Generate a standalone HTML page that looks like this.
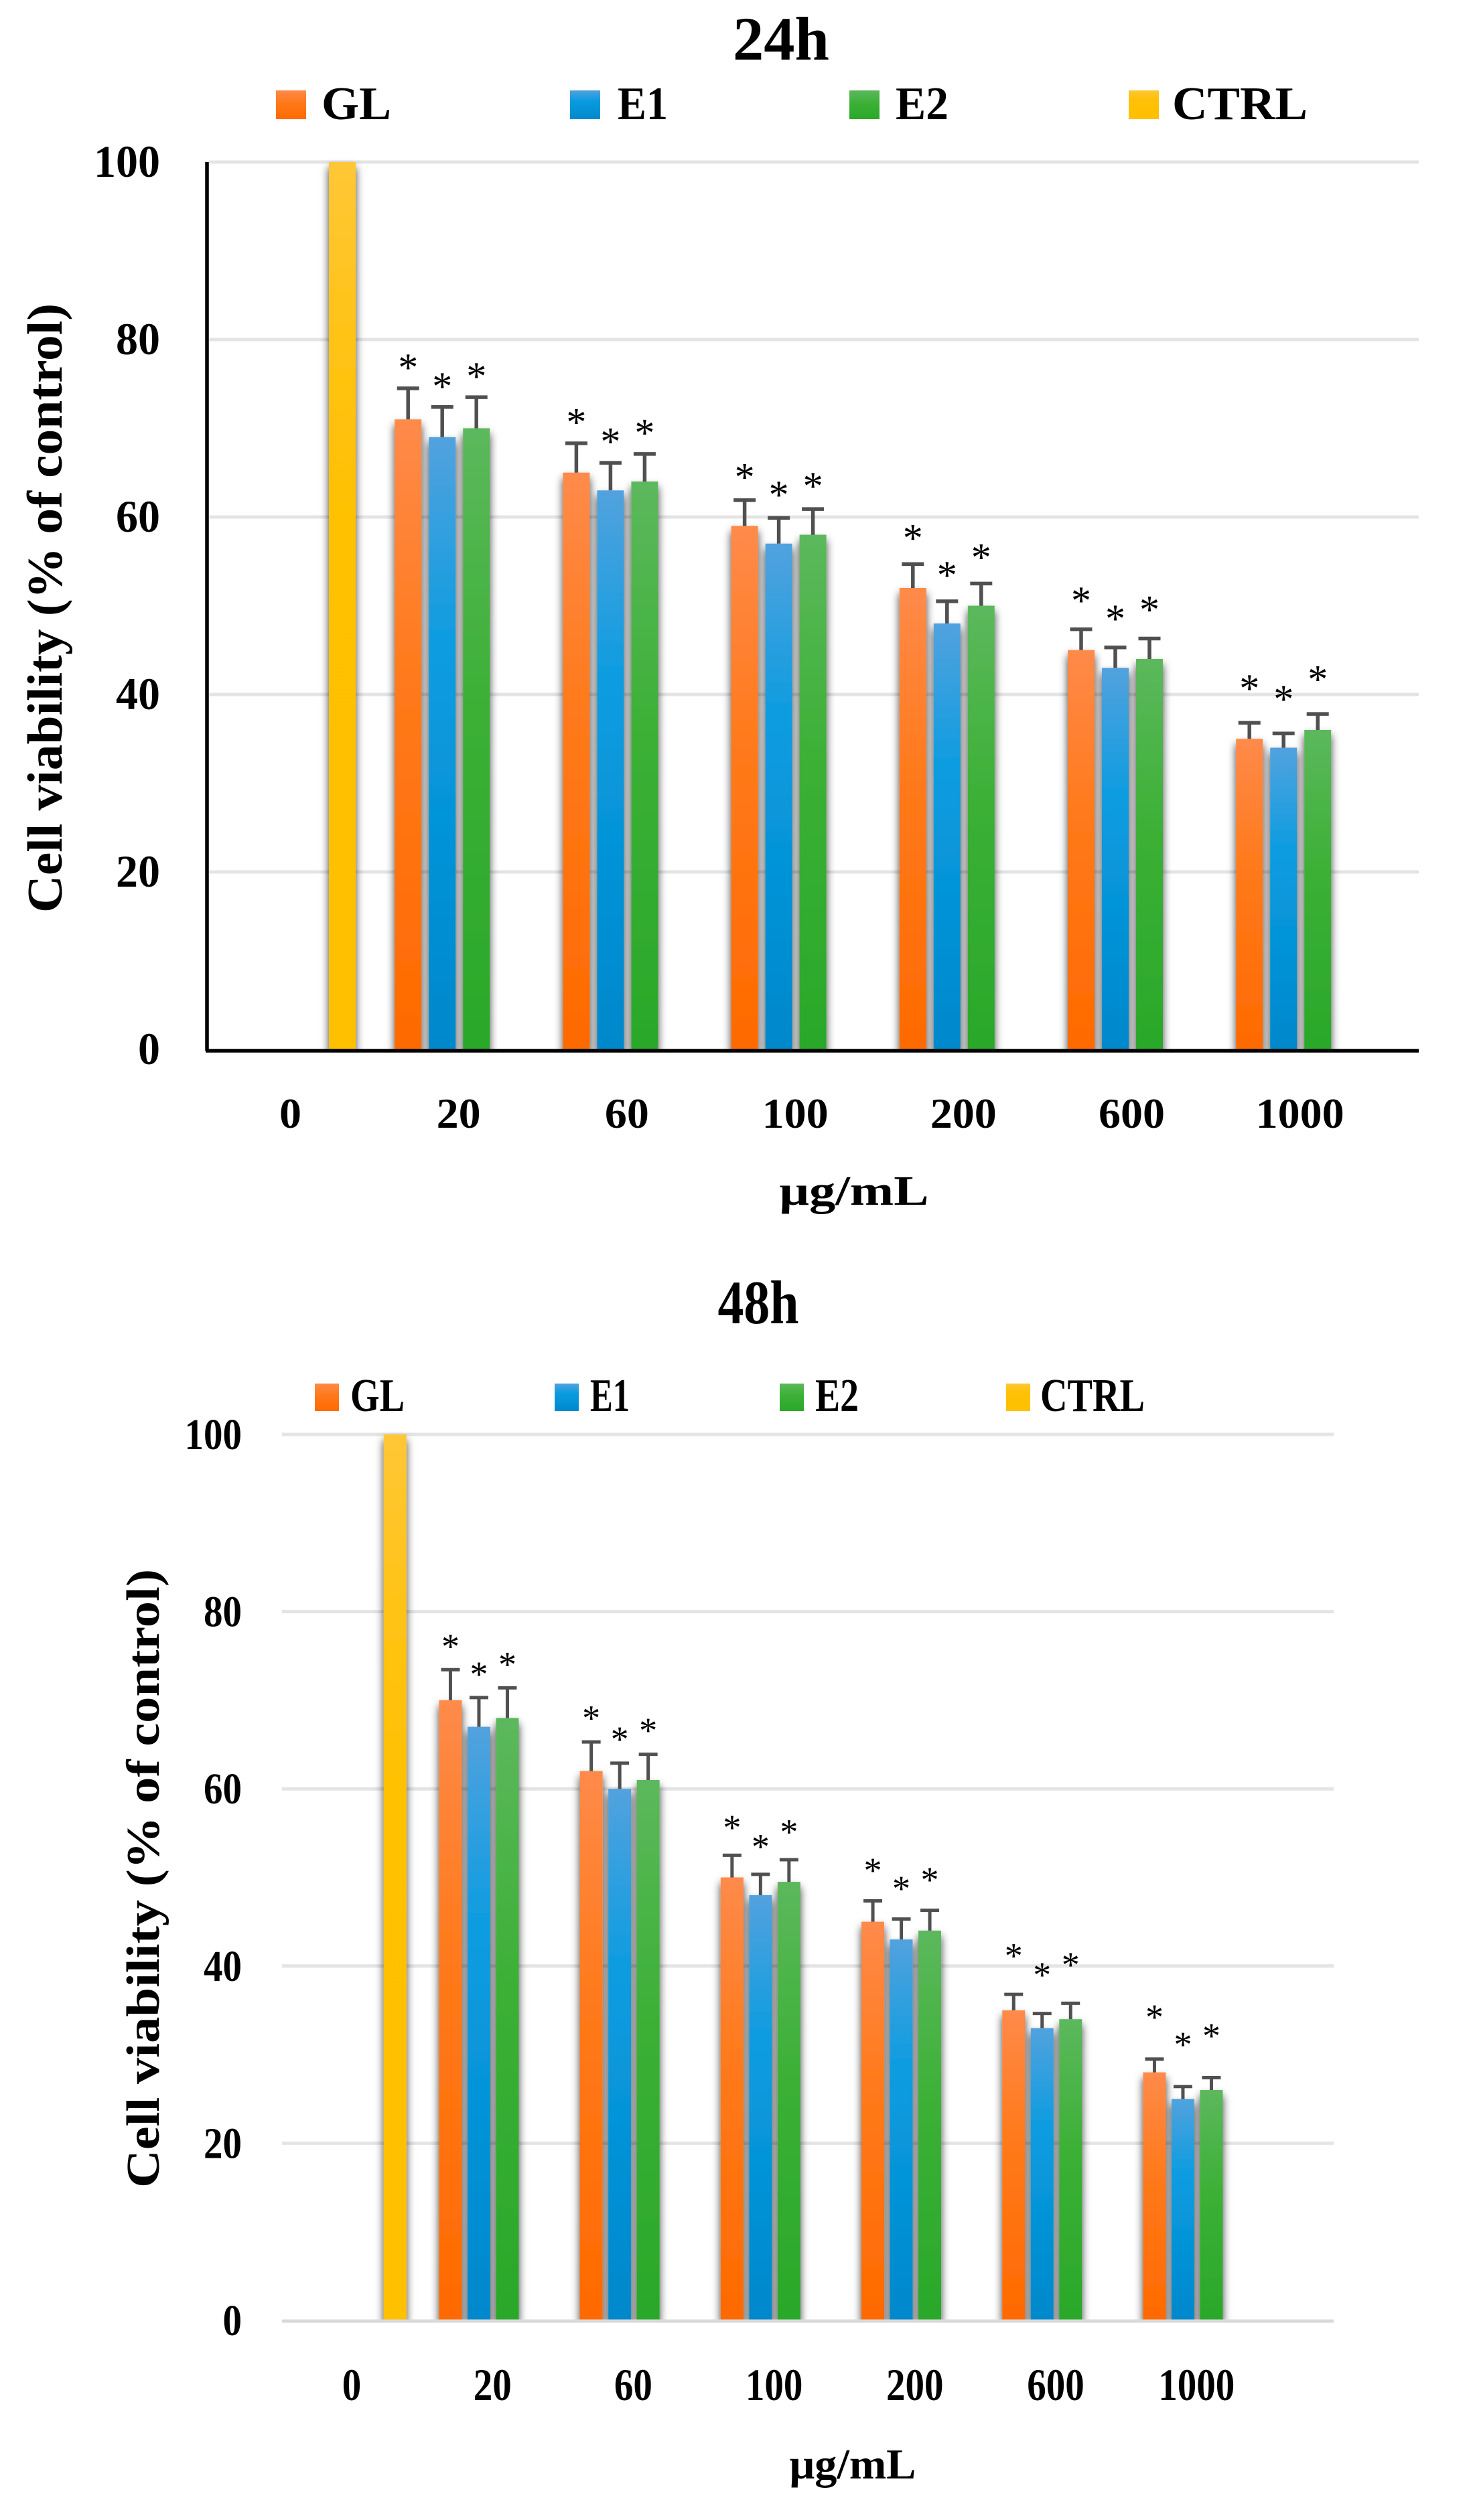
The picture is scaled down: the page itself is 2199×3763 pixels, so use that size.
<!DOCTYPE html>
<html lang="en">
<head>
<meta charset="utf-8">
<title>Cell viability at 24h and 48h</title>
<style>
html,body{margin:0;padding:0;background:#fff;}
svg{display:block;}
text{font-family:"Liberation Serif","DejaVu Serif",serif;fill:#000;}
</style>
</head>
<body>
<svg id="figure" xmlns="http://www.w3.org/2000/svg" width="2199" height="3763" viewBox="0 0 2199 3763">
  <defs id="figure-defs">
    <linearGradient id="grad-gl" x1="0" y1="0" x2="0" y2="1"><stop offset="0" stop-color="#ff8a4a"/><stop offset="0.4" stop-color="#ff7a1c"/><stop offset="1" stop-color="#ff6a00"/></linearGradient>
    <linearGradient id="grad-e1" x1="0" y1="0" x2="0" y2="1"><stop offset="0" stop-color="#52a2de"/><stop offset="0.35" stop-color="#0a9ce0"/><stop offset="1" stop-color="#0088cc"/></linearGradient>
    <linearGradient id="grad-e2" x1="0" y1="0" x2="0" y2="1"><stop offset="0" stop-color="#5cb85c"/><stop offset="0.45" stop-color="#3bb035"/><stop offset="1" stop-color="#2aa82a"/></linearGradient>
    <linearGradient id="grad-ctrl" x1="0" y1="0" x2="0" y2="1"><stop offset="0" stop-color="#ffc736"/><stop offset="0.3" stop-color="#ffc107"/><stop offset="1" stop-color="#ffc000"/></linearGradient>
    <filter id="bar-shadow" filterUnits="userSpaceOnUse" x="0" y="0" width="2199" height="3763">
      <feDropShadow dx="0" dy="8" stdDeviation="6.5" flood-color="#000" flood-opacity="0.75"/>
    </filter>
  </defs>
</svg>
<script>
// Shared categories and axis ticks
const categories = ['0', '20', '60', '100', '200', '600', '1000'];
const yTicks = [0, 20, 40, 60, 80, 100];
const yTickLabels = ['0', '20', '40', '60', '80', '100'];
const seriesNames = ['GL', 'E1', 'E2', 'CTRL'];

// 24h values (% of control)
const gl24 = [null, 71, 65, 59, 52, 45, 35];
const e124 = [null, 69, 63, 57, 48, 43, 34];
const e224 = [null, 70, 64, 58, 50, 44, 36];
const ctrl24 = [100, null, null, null, null, null, null];
const glErr24 = [null, 3.5, 3.3, 2.9, 2.7, 2.35, 1.8];
const e1Err24 = [null, 3.4, 3.1, 2.9, 2.5, 2.3, 1.6];
const e2Err24 = [null, 3.5, 3.1, 2.9, 2.5, 2.3, 1.8];
const starGap24 = [null, 2.95, 3.0, 3.2, 3.55, 3.85, 4.5];

// 48h values (% of control)
const gl48 = [null, 70, 62, 50, 45, 35, 28];
const e148 = [null, 67, 60, 48, 43, 33, 25];
const e248 = [null, 68, 61, 49.5, 44, 34, 26];
const ctrl48 = [100, null, null, null, null, null, null];
const glErr48 = [null, 3.45, 3.3, 2.5, 2.35, 1.8, 1.5];
const e1Err48 = [null, 3.3, 2.9, 2.35, 2.3, 1.65, 1.4];
const e2Err48 = [null, 3.4, 2.9, 2.5, 2.3, 1.8, 1.4];
const starGap48 = [null, 3.2, 3.25, 3.7, 4.0, 4.9, 5.3];

const svg = document.getElementById('figure');
const defs = document.getElementById('figure-defs');
const NS = 'http://www.w3.org/2000/svg';
const gradients = ['url(#grad-gl)', 'url(#grad-e1)', 'url(#grad-e2)', 'url(#grad-ctrl)'];

function make(tag, props, parent) {
  const el = document.createElementNS(NS, tag);
  for (const k in props) el.setAttribute(k, props[k]);
  parent.appendChild(el);
  return el;
}

function drawChart(c, series, errors, starGaps) {
  const root = make('g', {}, svg);
  
  

  const yScale = v => c.y0 - (v / 100) * c.yLen;
  const xBand = i => c.x0 + i * c.band;
  const xBar = (i, s) => xBand(i) + (s - 1.5) * c.step;

  const title = make('text', {x: c.titleX, y: c.titleY, 'text-anchor': 'middle', 'font-size': c.titleFont, 'font-weight': 'bold', textLength: c.titleW, lengthAdjust: 'spacingAndGlyphs'}, root);
  title.textContent = c.key;
  
  

  seriesNames.forEach((name, s) => {
    const sw = make('rect', {x: c.legendSwatchX[s], y: c.legendY, width: c.swatchW, height: c.swatchH, fill: gradients[s]}, root);
    
    
    const t = make('text', {x: c.legendTextX[s], y: c.legendY + c.swatchH, 'font-size': c.legendFont, 'font-weight': 'bold', textLength: c.legendTextW[s], lengthAdjust: 'spacingAndGlyphs'}, root);
    t.textContent = name;
    
    
  });

  yTicks.forEach((v, i) => {
    if (v > 0) {
      const g = make('line', {x1: c.gridL, x2: c.gridR, y1: yScale(v), y2: yScale(v), stroke: '#e4e4e4', 'stroke-width': 5}, root);
      
      
    }
    const label = yTickLabels[i];
    const t = make('text', {x: c.yTickR - label.length * c.digitW, y: yScale(v) + 22, 'font-size': c.yTickFont, 'font-weight': 'bold', textLength: label.length * c.digitW, lengthAdjust: 'spacingAndGlyphs'}, root);
    t.textContent = label;
    
    
  });

  const clip = make('clipPath', {id: 'plot-clip-' + c.key}, defs);
  make('rect', {x: 0, y: 0, width: 2199, height: c.y0}, clip);
  const clipGroup = make('g', {'clip-path': 'url(#plot-clip-' + c.key + ')'}, root);
  
  
  const barGroup = make('g', {filter: 'url(#bar-shadow)'}, clipGroup);
  
  
  series.forEach((vals, s) => {
    vals.forEach((v, i) => {
      if (v === null) return;
      const bar = make('rect', {x: xBar(i, s) - c.barW / 2, y: yScale(v), width: c.barW, height: c.y0 - yScale(v), fill: gradients[s]}, barGroup);
      
      
    });
  });

  if (c.blackAxes) {
    const yAxis = make('line', {x1: c.gridL - 3, x2: c.gridL - 3, y1: yScale(100), y2: c.y0 + 2, stroke: '#000', 'stroke-width': 5.5}, root);
    
    
    const xAxis = make('line', {x1: c.gridL - 5, x2: c.gridR, y1: c.y0 + 2, y2: c.y0 + 2, stroke: '#000', 'stroke-width': 5.5}, root);
    
    
  } else {
    const base = make('line', {x1: c.gridL, x2: c.gridR, y1: c.y0 + 1, y2: c.y0 + 1, stroke: '#d9d9d9', 'stroke-width': 5}, root);
    
    
  }

  errors.forEach((errs, s) => {
    errs.forEach((e, i) => {
      if (e === null) return;
      const v = series[s][i];
      const x = xBar(i, s);
      const top = yScale(v + e);
      const stem = make('line', {x1: x, x2: x, y1: yScale(v), y2: top, stroke: '#505050', 'stroke-width': c.errW}, root);
      
      
      const cap = make('line', {x1: x - c.capW / 2, x2: x + c.capW / 2, y1: top, y2: top, stroke: '#505050', 'stroke-width': c.errW}, root);
      
      
      const star = make('text', {x: x, y: yScale(v + e + starGaps[i]) + c.starFont * 0.47, 'text-anchor': 'middle', 'font-size': c.starFont}, root);
      star.textContent = '*';
      
      
    });
  });

  categories.forEach((cat, i) => {
    const t = make('text', {x: xBand(i) + c.xLabelShift, y: c.xTickY, 'text-anchor': 'middle', 'font-size': c.xTickFont, 'font-weight': 'bold', textLength: cat.length * c.digitW, lengthAdjust: 'spacingAndGlyphs'}, root);
    t.textContent = cat;
    
    
  });

  const xTitle = make('text', {x: c.xTitleX, y: c.xTitleY, 'text-anchor': 'middle', 'font-size': c.xTitleFont, 'font-weight': 'bold', textLength: c.xTitleW, lengthAdjust: 'spacingAndGlyphs'}, root);
  xTitle.textContent = 'μg/mL';
  
  

  const yTitle = make('text', {transform: 'translate(' + c.yTitleX + ' ' + c.yTitleCY + ') rotate(-90)', 'text-anchor': 'middle', 'font-size': c.yTitleFont, 'font-weight': 'bold', textLength: c.yTitleW, lengthAdjust: 'spacingAndGlyphs'}, root);
  yTitle.textContent = 'Cell viability (% of control)';
  
  
}

drawChart({
  key: '24h', y0: 1567, yLen: 1325, x0: 434.5, band: 251.2, step: 51, barW: 40,
  gridL: 312, gridR: 2118, blackAxes: true, errW: 5.5, capW: 33, starFont: 60,
  titleX: 1166, titleY: 89, titleW: 144, titleFont: 92,
  legendSwatchX: [412, 851, 1268, 1685], legendTextX: [480, 922, 1337, 1750], legendTextW: [104, 75, 79, 202],
  legendY: 135, swatchW: 45, swatchH: 43, legendFont: 70,
  yTickR: 239, digitW: 33, yTickFont: 68, xTickFont: 63, xTickY: 1684, xLabelShift: -1,
  xTitleX: 1275, xTitleY: 1799, xTitleW: 223, xTitleFont: 62,
  yTitleX: 92, yTitleCY: 908, yTitleW: 910, yTitleFont: 74
}, [gl24, e124, e224, ctrl24], [glErr24, e1Err24, e2Err24], starGap24);

drawChart({
  key: '48h', y0: 3465, yLen: 1323, x0: 526, band: 210.2, step: 42.5, barW: 34,
  gridL: 421, gridR: 1991, blackAxes: false, errW: 5, capW: 28, starFont: 54,
  titleX: 1132, titleY: 1976, titleW: 121, titleFont: 92,
  legendSwatchX: [470, 828, 1164, 1502], legendTextX: [523, 881, 1217, 1553], legendTextW: [81, 59, 65, 156],
  legendY: 2066, swatchW: 36, swatchH: 41, legendFont: 70,
  yTickR: 361, digitW: 28.5, yTickFont: 66, xTickFont: 68, xTickY: 3584, xLabelShift: -1,
  xTitleX: 1273, xTitleY: 3701, xTitleW: 189, xTitleFont: 64,
  yTitleX: 237, yTitleCY: 2805, yTitleW: 924, yTitleFont: 70
}, [gl48, e148, e248, ctrl48], [glErr48, e1Err48, e2Err48], starGap48);
</script>
</body>
</html>
